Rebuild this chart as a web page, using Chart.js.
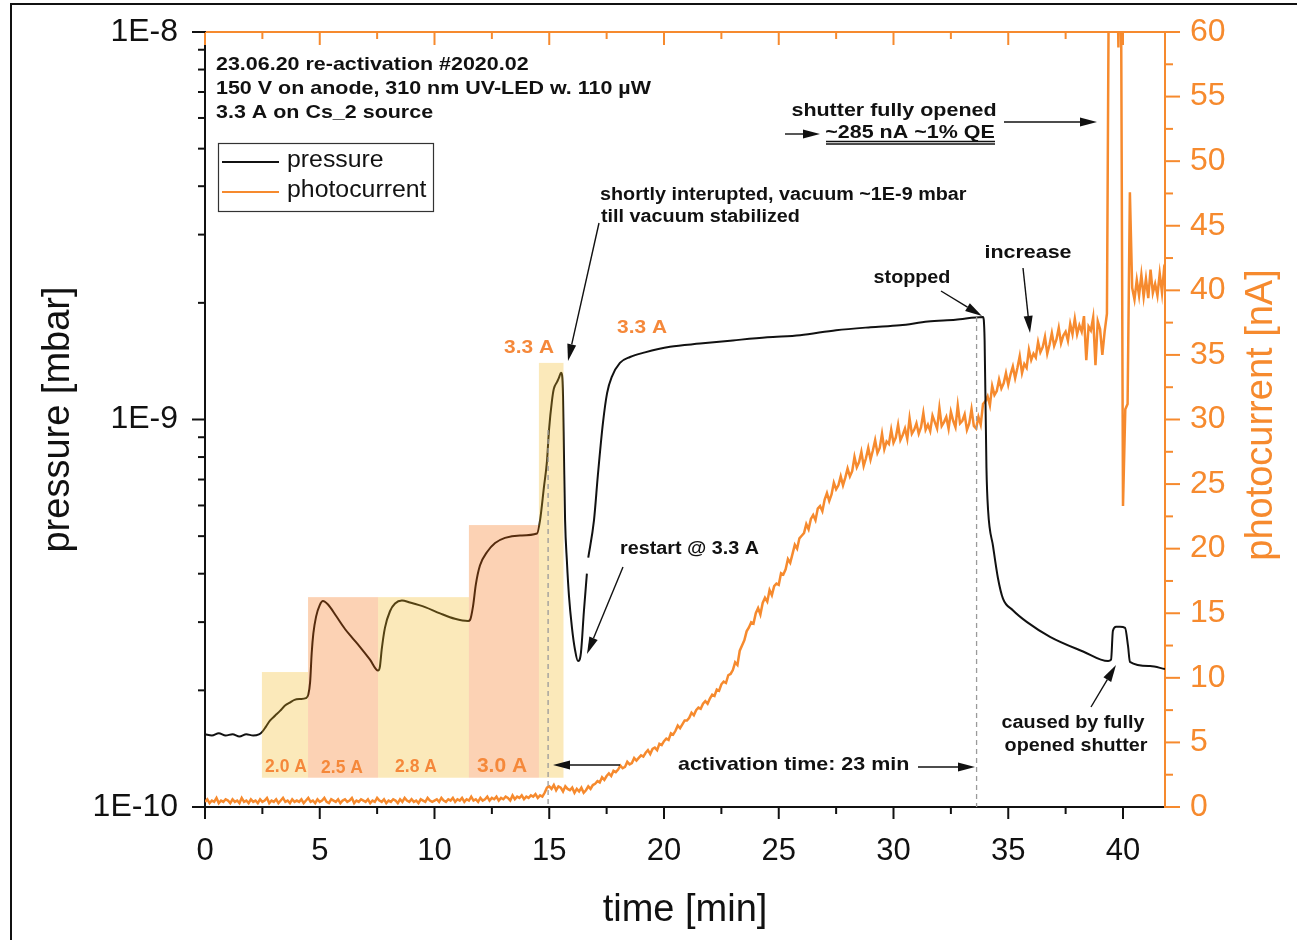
<!DOCTYPE html>
<html>
<head>
<meta charset="utf-8">
<title>re-activation #2020.02</title>
<script src="https://cdn.jsdelivr.net/npm/chart.js@4.4.0/dist/chart.umd.min.js"></script>
<style>
  html, body { margin: 0; padding: 0; background: #fff; }
  #wrap { width: 1297px; height: 940px; }
</style>
</head>
<body>
<div id="wrap"><canvas id="chart" width="1297" height="940"></canvas></div>
<script>
// pressure gauge [mbar] over time [min]; null = gauge shortly interrupted
const pressureTime = [
  0.0, 0.3, 0.6, 0.9, 1.2, 1.5, 1.8, 2.1, 2.35, 2.48,
  2.65, 2.83, 3.05, 3.27, 3.5, 3.7, 3.9, 4.14, 4.4, 4.5,
  4.58, 4.65, 4.72, 4.84, 5.0, 5.14, 5.36, 5.7, 6.1, 6.4,
  6.75, 7.19, 7.54, 7.62, 7.7, 7.84, 8.06, 8.28, 8.58, 8.93,
  9.59, 10.24, 10.89, 11.46, 11.55, 11.68, 11.8, 11.98, 12.29, 12.64,
  13.07, 13.73, 14.47, 14.6, 14.77, 14.9, 14.99, 15.12, 15.2, 15.34,
  15.42, 15.51, 15.56, 15.6, 15.64, 15.69, 15.77, 15.86, 15.99, 16.12,
  16.25, 16.38, 16.51, 16.64, 16.67, 16.7, 16.95, 17.12, 17.34, 17.52,
  17.73, 18.08, 18.52, 19.17, 20.26, 21.57, 23.0, 24.5, 25.93, 27.5,
  29.0, 30.28, 31.5, 32.7, 33.9, 33.97, 34.05, 34.12, 34.34, 34.55,
  34.77, 35.2, 35.82, 36.82, 38.26, 39.35, 39.48, 39.56, 39.7, 39.87,
  40.09, 40.22, 40.3, 41.18, 41.83
];
const pressureValue = [
  1.54e-10, 1.53e-10, 1.55e-10, 1.53e-10, 1.54e-10, 1.52e-10, 1.54e-10, 1.53e-10, 1.54e-10, 1.56e-10,
  1.61e-10, 1.67e-10, 1.72e-10, 1.77e-10, 1.83e-10, 1.86e-10, 1.89e-10, 1.90e-10, 1.91e-10, 1.95e-10,
  2.10e-10, 2.50e-10, 2.80e-10, 3.10e-10, 3.32e-10, 3.40e-10, 3.33e-10, 3.12e-10, 2.88e-10, 2.74e-10,
  2.59e-10, 2.40e-10, 2.25e-10, 2.30e-10, 2.55e-10, 2.90e-10, 3.20e-10, 3.35e-10, 3.41e-10, 3.37e-10,
  3.28e-10, 3.16e-10, 3.06e-10, 3.02e-10, 3.04e-10, 3.30e-10, 3.75e-10, 4.20e-10, 4.55e-10, 4.80e-10,
  4.95e-10, 5.02e-10, 5.08e-10, 5.50e-10, 6.70e-10, 7.80e-10, 9.40e-10, 1.12e-9, 1.20e-9, 1.25e-9,
  1.28e-9, 1.32e-9, 1.30e-9, 1.15e-9, 8.20e-10, 5.50e-10, 4.30e-10, 3.50e-10, 2.90e-10, 2.55e-10,
  2.38e-10, 2.50e-10, 3.20e-10, 4.00e-10, null, 4.40e-10, 5.50e-10, 7.20e-10, 9.80e-10, 1.17e-9,
  1.29e-9, 1.40e-9, 1.45e-9, 1.49e-9, 1.54e-9, 1.57e-9, 1.60e-9, 1.63e-9, 1.65e-9, 1.70e-9,
  1.73e-9, 1.75e-9, 1.79e-9, 1.81e-9, 1.84e-9, 1.60e-9, 7.50e-10, 5.85e-10, 4.70e-10, 3.90e-10,
  3.45e-10, 3.22e-10, 3.00e-10, 2.75e-10, 2.52e-10, 2.38e-10, 2.40e-10, 2.85e-10, 2.92e-10, 2.92e-10,
  2.90e-10, 2.60e-10, 2.37e-10, 2.31e-10, 2.27e-10
];

// photocurrent [nA], one row per minute, sampled every 0.1 min
const photoStart = 0;
const photoStep = 0.1;
const photocurrent = [
  0.4, 0.6, 0.3, 0.5, 0.4, 0.7, 0.3, 0.5, 0.4, 0.6,
  0.5, 0.3, 0.6, 0.4, 0.5, 0.3, 0.7, 0.4, 0.5, 0.3,
  0.6, 0.4, 0.5, 0.3, 0.6, 0.4, 0.5, 0.7, 0.3, 0.5,
  0.4, 0.6, 0.3, 0.5, 0.7, 0.4, 0.5, 0.3, 0.6, 0.4,
  0.5, 0.4, 0.6, 0.3, 0.5, 0.7, 0.4, 0.5, 0.3, 0.6,
  0.4, 0.5, 0.7, 0.4, 0.3, 0.6, 0.5, 0.4, 0.6, 0.3,
  0.5, 0.6, 0.4, 0.5, 0.7, 0.3, 0.5, 0.4, 0.6, 0.5,
  0.4, 0.6, 0.3, 0.5, 0.4, 0.7, 0.5, 0.4, 0.6, 0.3,
  0.5, 0.4, 0.6, 0.5, 0.3, 0.6, 0.4, 0.7, 0.5, 0.4,
  0.6, 0.4, 0.5, 0.3, 0.6, 0.5, 0.4, 0.7, 0.5, 0.4,
  0.5, 0.6, 0.4, 0.7, 0.5, 0.4, 0.6, 0.5, 0.7, 0.4,
  0.6, 0.5, 0.7, 0.4, 0.6, 0.5, 0.8, 0.5, 0.6, 0.4,
  0.7, 0.5, 0.6, 0.8, 0.5, 0.7, 0.6, 0.8, 0.5, 0.7,
  0.6, 0.8, 0.7, 0.5, 0.9, 0.6, 0.8, 0.7, 0.9, 0.6,
  0.8, 0.7, 0.9, 0.8, 1.0, 0.7, 0.9, 0.8, 1.1, 1.5,
  1.6, 1.4, 1.7, 1.3, 1.6, 1.5, 1.2, 1.6, 1.4, 1.3,
  1.5, 1.1, 1.4, 1.2, 1.5, 1.1, 1.3, 1.6, 1.4, 1.7,
  1.8, 2.0, 1.9, 2.3, 2.1, 2.4, 2.6, 2.4, 2.8, 2.7,
  2.9, 3.2, 3.0, 3.1, 3.5, 3.3, 3.4, 3.8, 3.6, 3.8,
  4.0, 3.9, 4.2, 4.4, 4.1, 4.5, 4.6, 4.4, 4.9, 4.8,
  5.1, 5.3, 5.2, 5.7, 5.6, 5.9, 6.3, 6.1, 6.4, 6.7,
  6.7, 6.9, 7.3, 7.1, 7.5, 7.7, 7.6, 8.0, 8.2, 8.0,
  8.4, 8.7, 8.6, 9.1, 9.0, 9.5, 9.7, 9.6, 10.2, 10.3,
  10.6, 11.2, 11.0, 12.1, 12.5, 12.9, 13.6, 13.9, 14.3, 14.2,
  15.0, 15.4, 14.9, 15.8, 16.2, 15.9, 16.8, 16.4, 17.1, 17.3,
  17.2, 18.1, 18.0, 18.4, 19.2, 18.9, 19.6, 20.3, 20.0, 20.8,
  21.0, 21.2, 21.9, 21.5, 22.3, 22.6, 22.2, 23.1, 23.3, 22.9,
  23.8, 24.3, 23.7, 24.2, 25.1, 24.6, 24.9, 25.6, 24.9, 25.5,
  26.2, 25.6, 26.0, 27.1, 26.3, 26.7, 27.5, 26.4, 27.0, 27.8,
  26.9, 27.6, 28.4, 27.4, 27.8, 28.9, 27.7, 28.3, 28.1, 29.2,
  28.2, 28.6, 29.6, 28.4, 28.8, 29.3, 28.5, 30.1, 28.9, 29.2,
  29.7, 28.9, 29.4, 30.5, 29.2, 29.6, 29.1, 30.3, 29.8, 29.3,
  30.9, 29.5, 29.8, 30.2, 29.3, 30.6, 29.9, 29.4, 31.1, 29.7,
  29.9, 30.4, 29.2, 29.7, 30.8, 29.5, 29.3, 30.2, 29.6, 31.2,
  31.4, 31.8, 31.1, 32.6, 31.9, 32.2, 33.1, 32.4, 32.8, 33.6,
  32.7, 33.5, 34.1, 33.2, 34.0, 34.9, 33.6, 34.3, 34.0, 35.4,
  34.6, 35.1, 34.8, 36.0, 35.2, 35.6, 36.4, 35.1, 35.8, 36.7,
  35.7, 36.2, 37.1, 35.9, 36.5, 36.8, 36.1, 37.4, 36.6, 37.8,
  36.6, 37.3, 36.8, 38.0, 34.6, 37.2, 36.9, 37.9, 34.2, 37.6,
  37.0, 35.0, 36.8, 38.2, 70.0, 70.0, 70.0, 70.0, 58.8, 70.0,
  23.3, 30.8, 31.2, 47.6, 40.2, 39.3, 40.8, 39.6, 41.2, 39.5,
  40.9, 39.4, 41.6, 39.8, 40.5, 39.6, 41.3, 39.8, 41.9, 42.3
];

// Cs source current steps: box from/to [min] and box top [mbar]
const stepLabels = ['2.0 A', '2.5 A', '2.8 A', '3.0 A', '3.3 A'];
const stepFrom = [2.48, 4.49, 7.54, 11.5, 14.55];
const stepTo = [4.49, 7.54, 11.5, 14.55, 15.62];
const stepTop = [2.23e-10, 3.48e-10, 3.48e-10, 5.34e-10, 1.40e-9];
const stepBottom = 1.19e-10;

// markers for start and end of the activation
const markTime = [14.95, 33.62];
const markTop = [9.4e-10, 1.84e-9];

const FONT = "'Liberation Sans', Arial, Helvetica, sans-serif";
const ORANGE = '#F68A2E';
const TEXT_ORANGE = '#F5883A';
const BOX_YELLOW = 'rgba(242, 182, 25, 0.3)';
const BOX_PEACH = 'rgba(245, 105, 5, 0.3)';

const pressurePoints = pressureTime.map((t, i) => ({ x: t, y: pressureValue[i] }));
const photoPoints = photocurrent.map((v, i) => ({ x: +(photoStart + i * photoStep).toFixed(2), y: v }));

function seg(ctx, x1, y1, x2, y2, color, w) {
  ctx.beginPath();
  ctx.strokeStyle = color;
  ctx.lineWidth = w;
  ctx.moveTo(x1, y1);
  ctx.lineTo(x2, y2);
  ctx.stroke();
}

function txt(ctx, s, x, y, o) {
  ctx.save();
  ctx.translate(x, y);
  if (o.rot) ctx.rotate(o.rot);
  ctx.scale(o.sx || 1, 1);
  ctx.font = (o.bold ? 'bold ' : '') + o.size + 'px ' + FONT;
  ctx.fillStyle = o.color || '#111';
  ctx.textAlign = o.align || 'left';
  ctx.textBaseline = 'middle';
  ctx.fillText(s, 0, 0);
  ctx.restore();
}

function arrow(ctx, x1, y1, x2, y2) {
  const ang = Math.atan2(y2 - y1, x2 - x1);
  const len = 17, half = 4.5;
  const bx = x2 - len * Math.cos(ang), by = y2 - len * Math.sin(ang);
  seg(ctx, x1, y1, bx, by, '#111', 1.4);
  ctx.beginPath();
  ctx.fillStyle = '#111';
  ctx.moveTo(x2, y2);
  ctx.lineTo(bx + half * Math.sin(ang), by - half * Math.cos(ang));
  ctx.lineTo(bx - half * Math.sin(ang), by + half * Math.cos(ang));
  ctx.closePath();
  ctx.fill();
}

// current-step boxes laid over the pressure trace
const stepBoxes = {
  id: 'stepBoxes',
  afterDatasetsDraw(chart) {
    const { ctx, scales: { x, y } } = chart;
    ctx.save();
    stepLabels.forEach((lab, i) => {
      const x1 = x.getPixelForValue(stepFrom[i]);
      const x2 = x.getPixelForValue(stepTo[i]);
      const y1 = y.getPixelForValue(stepTop[i]);
      const y2 = y.getPixelForValue(stepBottom);
      ctx.fillStyle = i % 2 === 0 ? BOX_YELLOW : BOX_PEACH;
      ctx.fillRect(x1, y1, x2 - x1, y2 - y1);
    });
    ctx.setLineDash([5, 4]);
    markTime.forEach((t, i) => {
      const px = x.getPixelForValue(t);
      seg(ctx, px, y.getPixelForValue(markTop[i]), px, y.getPixelForValue(1e-10), '#9a9a9a', 1.3);
    });
    ctx.restore();
  }
};

// tick marks, frame, legend and the annotations
const decor = {
  id: 'decor',
  afterDraw(chart) {
    const { ctx, chartArea: a, scales: { x, y } } = chart;
    ctx.save();

    // time ticks: bottom outward (black), top inward (orange)
    for (let t = 0; t <= x.max; t += 2.5) {
      const px = x.getPixelForValue(t);
      const major = t % 5 === 0;
      seg(ctx, px, a.bottom, px, a.bottom + (major ? 12 : 7), '#111', 2);
      seg(ctx, px, a.top, px, a.top + (major ? 13 : 7), ORANGE, 2);
    }
    // log ticks on the pressure axis
    [-10, -9].forEach(e => {
      for (let m = 1; m <= 9; m++) {
        const py = y.getPixelForValue(m * Math.pow(10, e));
        seg(ctx, a.left, py, a.left - (m === 1 ? 13 : 7), py, '#111', 2);
      }
    });
    seg(ctx, a.left, a.top, a.left - 13, a.top, '#111', 2);
    // photocurrent ticks
    const y2 = chart.scales.y2;
    for (let v = 0; v <= 60; v += 2.5) {
      const py = y2.getPixelForValue(v);
      seg(ctx, a.right, py, a.right + (v % 5 === 0 ? 15 : 8), py, ORANGE, 2);
    }

    // page frame
    ctx.beginPath();
    ctx.strokeStyle = '#111';
    ctx.lineWidth = 2;
    ctx.moveTo(11, 940);
    ctx.lineTo(11, 4);
    ctx.lineTo(1297, 4);
    ctx.stroke();

    // right axis title, reading upward
    txt(ctx, 'photocurrent [nA]', 1262, 415, { size: 38, color: ORANGE, rot: -Math.PI / 2, align: 'center' });

    // header
    const head = { bold: true, size: 18.5, sx: 1.16 };
    txt(ctx, '23.06.20 re-activation #2020.02', 216, 65, head);
    txt(ctx, '150 V on anode, 310 nm UV-LED w. 110 µW', 216, 89, head);
    txt(ctx, '3.3 A on Cs_2 source', 216, 113, head);

    // legend
    ctx.strokeStyle = '#333';
    ctx.lineWidth = 1.2;
    ctx.strokeRect(218.5, 143.5, 215, 68);
    seg(ctx, 222, 162, 279, 162, '#111', 2);
    seg(ctx, 222, 192, 279, 192, ORANGE, 2);
    txt(ctx, 'pressure', 287, 161, { size: 23, sx: 1.08 });
    txt(ctx, 'photocurrent', 287, 191, { size: 23, sx: 1.08 });

    // current labels
    const lab = { bold: true, size: 17.5, color: TEXT_ORANGE, align: 'center' };
    txt(ctx, '2.0 A', 286, 767, lab);
    txt(ctx, '2.5 A', 342, 768, lab);
    txt(ctx, '2.8 A', 416, 767, lab);
    txt(ctx, '3.0 A', 502, 766, { ...lab, size: 21 });
    txt(ctx, '3.3 A', 529, 348, { ...lab, size: 19, sx: 1.1 });
    txt(ctx, '3.3 A', 642, 328, { ...lab, size: 19, sx: 1.1 });

    // notes with arrows
    const big = { bold: true, size: 18.5, sx: 1.16 };
    const small = { bold: true, size: 17.5, sx: 1.13 };
    txt(ctx, 'shortly interupted, vacuum ~1E-9 mbar', 600, 195, small);
    txt(ctx, 'till vacuum stabilized', 601, 217, small);
    arrow(ctx, 599, 223, 568, 361);

    txt(ctx, 'stopped', 912, 278, { ...small, align: 'center' });
    arrow(ctx, 941, 291, 982, 316);

    txt(ctx, 'increase', 1028, 253, { ...big, align: 'center' });
    arrow(ctx, 1023, 268, 1030, 333);

    txt(ctx, 'shutter fully opened', 894, 111, { ...big, align: 'center' });
    txt(ctx, '~285 nA ~1% QE', 910, 133, { ...big, align: 'center' });
    seg(ctx, 826, 141.5, 995, 141.5, '#111', 1.3);
    seg(ctx, 826, 144, 995, 144, '#111', 1.3);
    arrow(ctx, 785, 134, 820, 134);
    arrow(ctx, 1004, 122, 1097, 122);

    txt(ctx, 'restart @ 3.3 A', 620, 549, small);
    arrow(ctx, 623, 567, 587, 654);

    txt(ctx, 'activation time: 23 min', 678, 765, big);
    arrow(ctx, 620, 765, 553, 765);
    arrow(ctx, 918, 767, 975, 767);

    txt(ctx, 'caused by fully', 1073, 723, { ...small, align: 'center' });
    txt(ctx, 'opened shutter', 1076, 746, { ...small, align: 'center' });
    arrow(ctx, 1091, 707, 1116, 665);

    ctx.restore();
  }
};

// tick marks are drawn by the plugin; tickLength only sets the label offset
const noGrid = { display: false, drawTicks: false };
const labelGap = len => ({ display: false, drawTicks: true, tickLength: len });

new Chart(document.getElementById('chart'), {
  type: 'line',
  data: {
    datasets: [
      {
        label: 'pressure',
        data: pressurePoints,
        yAxisID: 'y',
        borderColor: '#111',
        borderWidth: 2,
        pointRadius: 0,
        cubicInterpolationMode: 'monotone',
        spanGaps: false,
        order: 0
      },
      {
        label: 'photocurrent',
        data: photoPoints,
        yAxisID: 'y2',
        borderColor: ORANGE,
        borderWidth: 2.5,
        pointRadius: 0,
        tension: 0,
        order: 1
      }
    ]
  },
  options: {
    responsive: false,
    animation: false,
    layout: { padding: 0 },
    plugins: { legend: { display: false }, tooltip: { enabled: false } },
    scales: {
      x: {
        type: 'linear',
        position: 'bottom',
        min: 0,
        max: 41.83,
        grid: labelGap(24),
        border: { color: '#111', width: 2 },
        ticks: {
          stepSize: 5,
          includeBounds: false,
          maxRotation: 0,
          padding: 2,
          color: '#111',
          font: { family: FONT, size: 31 }
        },
        title: {
          display: true,
          text: 'time [min]',
          color: '#111',
          font: { family: FONT, size: 38 },
          padding: { top: 0, bottom: 7 }
        },
        afterFit: s => { s.height = 133; }
      },
      x2: {
        type: 'linear',
        position: 'top',
        min: 0,
        max: 41.83,
        grid: noGrid,
        border: { color: ORANGE, width: 2 },
        ticks: { display: false },
        afterFit: s => { s.height = 32; }
      },
      y: {
        type: 'logarithmic',
        position: 'left',
        min: 1e-10,
        max: 1e-8,
        grid: labelGap(27),
        border: { color: '#111', width: 2 },
        ticks: {
          autoSkip: false,
          padding: 0,
          color: '#111',
          font: { family: FONT, size: 32 },
          callback: v => {
            const e = Math.log10(v);
            return Math.abs(e - Math.round(e)) < 1e-6 ? '1E' + Math.round(e) : '';
          }
        },
        title: {
          display: true,
          text: 'pressure [mbar]',
          color: '#111',
          font: { family: FONT, size: 38 },
          padding: { top: 36, bottom: 0 }
        },
        afterFit: s => { s.width = 205; }
      },
      y2: {
        type: 'linear',
        position: 'right',
        min: 0,
        max: 60,
        grid: labelGap(25),
        border: { color: ORANGE, width: 2 },
        ticks: {
          stepSize: 5,
          padding: 0,
          color: ORANGE,
          font: { family: FONT, size: 32 }
        },
        afterFit: s => { s.width = 132; }
      }
    }
  },
  plugins: [stepBoxes, decor]
});
</script>
</body>
</html>
